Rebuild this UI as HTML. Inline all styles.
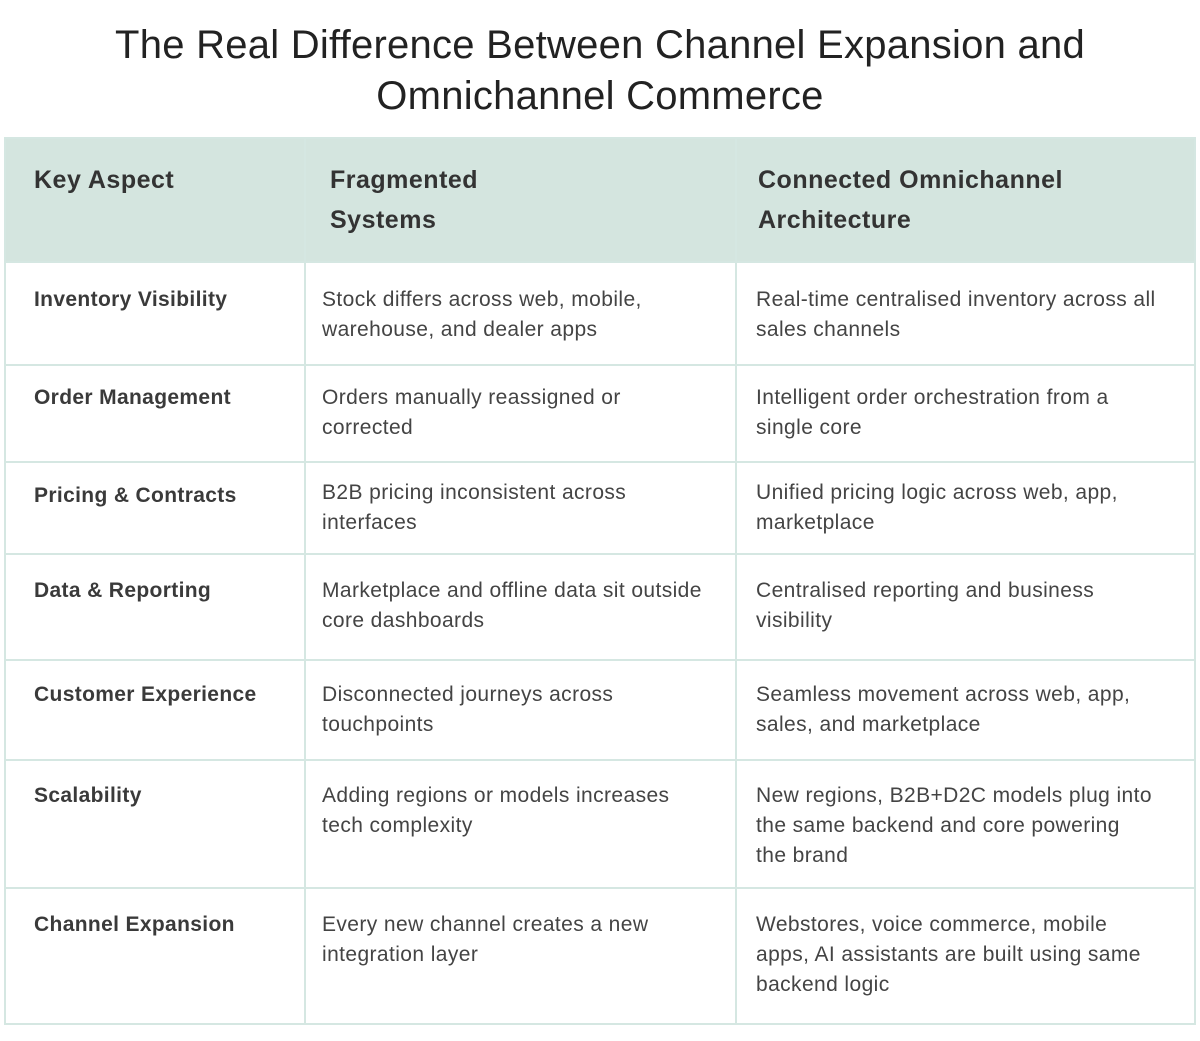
<!DOCTYPE html>
<html><head><meta charset="utf-8"><style>
body{margin:0;width:1200px;height:1041px;background:#fff;position:relative;overflow:hidden;font-family:"Liberation Sans",sans-serif}
.t{position:absolute;left:0;width:1200px;text-align:center;font-size:40px;letter-spacing:0.25px;color:#222;line-height:52px}
.hl,.vl{position:absolute;background:#d5e7e2}
.hl{height:2px;left:4px;width:1192px}
.vl{width:2px;top:137px;height:888px}
.c{position:absolute;font-size:21px;letter-spacing:0.4px;line-height:30px;color:#444;white-space:nowrap}
.k{font-weight:bold;color:#3a3a3a;letter-spacing:0.35px}
.h{position:absolute;font-size:25px;letter-spacing:0.5px;line-height:40px;font-weight:bold;color:#333;white-space:nowrap}
</style></head><body>
<div class="t" style="top:19px">The Real Difference Between Channel Expansion and</div>
<div class="t" style="top:70px">Omnichannel Commerce</div>
<div style="position:absolute;left:4px;top:137px;width:1192px;height:125px;background:#d4e5df"></div>
<div class="hl" style="top:137px"></div>
<div class="hl" style="top:261px"></div>
<div class="hl" style="top:364px"></div>
<div class="hl" style="top:461px"></div>
<div class="hl" style="top:553px"></div>
<div class="hl" style="top:659px"></div>
<div class="hl" style="top:759px"></div>
<div class="hl" style="top:887px"></div>
<div class="hl" style="top:1023px"></div>
<div class="vl" style="left:4px"></div>
<div class="vl" style="left:304px"></div>
<div class="vl" style="left:735px"></div>
<div class="vl" style="left:1194px"></div>

<div class="h" style="left:34px;top:160px">Key Aspect</div>
<div class="h" style="left:330px;top:160px">Fragmented<br>Systems</div>
<div class="h" style="left:758px;top:160px">Connected Omnichannel<br>Architecture</div>

<div class="c k" style="left:34px;top:285px">Inventory Visibility</div>
<div class="c" style="left:322px;top:285px">Stock differs across web, mobile,<br>warehouse, and dealer apps</div>
<div class="c" style="left:756px;top:285px">Real-time centralised inventory across all<br>sales channels</div>

<div class="c k" style="left:34px;top:383px">Order Management</div>
<div class="c" style="left:322px;top:383px">Orders manually reassigned or<br>corrected</div>
<div class="c" style="left:756px;top:383px">Intelligent order orchestration from a<br>single core</div>

<div class="c k" style="left:34px;top:481px">Pricing &amp; Contracts</div>
<div class="c" style="left:322px;top:478px">B2B pricing inconsistent across<br>interfaces</div>
<div class="c" style="left:756px;top:478px">Unified pricing logic across web, app,<br>marketplace</div>

<div class="c k" style="left:34px;top:576px">Data &amp; Reporting</div>
<div class="c" style="left:322px;top:576px">Marketplace and offline data sit outside<br>core dashboards</div>
<div class="c" style="left:756px;top:576px">Centralised reporting and business<br>visibility</div>

<div class="c k" style="left:34px;top:680px">Customer Experience</div>
<div class="c" style="left:322px;top:680px">Disconnected journeys across<br>touchpoints</div>
<div class="c" style="left:756px;top:680px">Seamless movement across web, app,<br>sales, and marketplace</div>

<div class="c k" style="left:34px;top:781px">Scalability</div>
<div class="c" style="left:322px;top:781px">Adding regions or models increases<br>tech complexity</div>
<div class="c" style="left:756px;top:781px">New regions, B2B+D2C models plug into<br>the same backend and core powering<br>the brand</div>

<div class="c k" style="left:34px;top:910px">Channel Expansion</div>
<div class="c" style="left:322px;top:910px">Every new channel creates a new<br>integration layer</div>
<div class="c" style="left:756px;top:910px">Webstores, voice commerce, mobile<br>apps, AI assistants are built using same<br>backend logic</div>
</body></html>
